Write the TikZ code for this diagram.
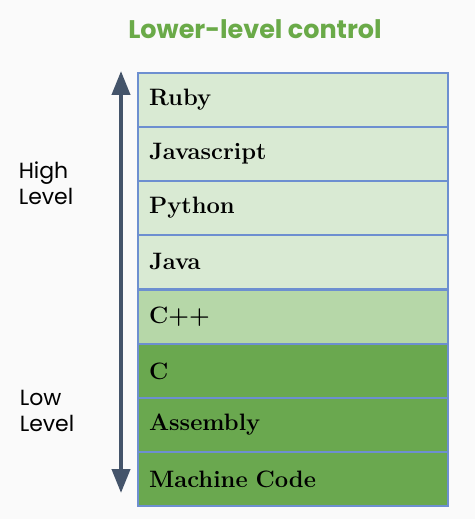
\documentclass[tikz,border=0pt]{standalone}
\usepackage{fontspec}
\newfontfamily\poppins{Poppins}
\usetikzlibrary{arrows.meta}
\definecolor{bgcol}{HTML}{FAFAFA}
\definecolor{titlecol}{HTML}{6AAA48}
\definecolor{lightcol}{HTML}{D9EAD3}
\definecolor{midcol}{HTML}{B6D7A8}
\definecolor{darkcol}{HTML}{6AA84F}
\definecolor{linecol}{HTML}{6D8FD0}
\definecolor{arrowcol}{HTML}{44546A}

\begin{document}
\begin{tikzpicture}[x=0.02cm, y=-0.02cm,
    lang/.style ={rectangle, draw=linecol, line width=0.7pt, text width=5.76cm,
      inner xsep=0.22cm, minimum height=1.08cm, align=left,
      font=\fontsize{13.5}{15}\selectfont\bfseries},
    side/.style ={align=left, font=\poppins\fontsize{12.5}{15}\selectfont},
    levelarrow/.style ={draw=arrowcol, line width=2.3pt,
      -{Triangle[width=0.36cm, length=0.48cm]}}]
   \fill[bgcol] (0,0) rectangle (475,519);
   \useasboundingbox (0,0) rectangle (475,519);
   \node[font=\poppins\bfseries\fontsize{14.5}{17}\selectfont, text=titlecol] (title) at (255,29) {Lower-level control};
   \node[lang, fill=lightcol] (ruby) at (293,100) {Ruby};
   \node[lang, fill=lightcol] (js) at (293,154) {Javascript};
   \node[lang, fill=lightcol] (python) at (293,208) {Python};
   \node[lang, fill=lightcol] (java) at (293,262) {Java};
   \node[lang, fill=midcol] (cpp) at (293,317) {C++};
   \node[lang, fill=darkcol] (c) at (293,371) {C};
   \node[lang, fill=darkcol] (asm) at (293,425) {Assembly};
   \node[lang, fill=darkcol] (machine) at (293,479) {Machine Code};
   \node[side] (high) at (46,183) {High\\Level};
   \node[side] (low) at (47,411) {Low\\Level};
   \coordinate (upstart) at (121,330);
   \coordinate (uptip) at (121,71);
   \coordinate (downstart) at (121,328);
   \coordinate (downtip) at (121,493);
   \draw[levelarrow] (upstart) to (uptip);
   \draw[levelarrow] (downstart) to (downtip);
 \end{tikzpicture}
\end{document}
